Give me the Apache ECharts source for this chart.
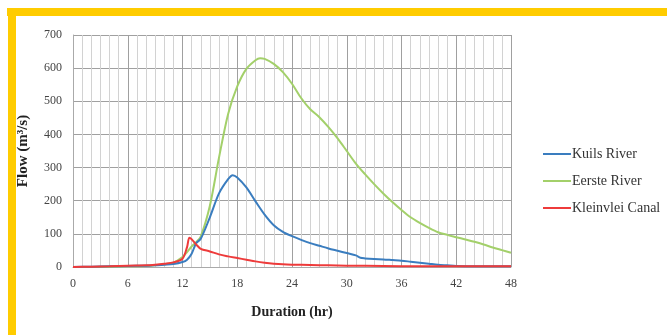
<!DOCTYPE html>
<html><head><meta charset="utf-8">
<script src="https://cdn.jsdelivr.net/npm/echarts@6/dist/echarts.min.js"></script>
<style>html,body{margin:0;padding:0;background:#fff}#c{width:667px;height:335px}</style>
</head><body><div id="c"></div>
<script>
var seriesNames = ['Kuils River', 'Eerste River', 'Kleinvlei Canal'];
var xTicks = [0, 6, 12, 18, 24, 30, 36, 42, 48];
var yTicks = [0, 100, 200, 300, 400, 500, 600, 700];

var kuilsT = [0,2,4,6,8,9,10,11,12,12.5,13,13.5,14,15,16,17,17.5,18,19,20,21,22,23,24,25,26,27,28,29,30,31,31.5,32,33,34,35,36,37,38,39,40,41,42,44,46,48];
var kuilsV = [0,1,2,3,4,5,7,9,15,22,40,72,85,150,222,265,277,270,240,198,158,126,106,93,82,72,64,56,49,42,35,28,26,24,23,21,19,16,13,10,7,5,3,2,2,2];

var eersteT = [0,2,4,6,8,9,10,11,12,12.5,13,13.5,14,15,16,17,18,19,20,20.5,21,22,23,24,25,26,27,28,29,30,31,32,33,34,35,36,37,38,39,40,41,42,43,44,45,46,47,48];
var eersteV = [0,0,1,2,3,5,8,13,30,45,62,75,92,185,330,462,545,598,624,630,628,613,588,553,510,476,452,422,388,350,312,280,250,222,196,172,150,133,118,105,97,90,83,76,68,59,51,43];

var kleinT = [0,2,4,6,8,9,10,11,12,12.5,12.75,13,13.5,14,15,16,17,18,19,20,21,22,23,24,26,28,30,34,38,42,48];
var kleinV = [0,1,2,4,5,7,10,14,25,60,88,84,68,55,47,38,32,27,22,17,13,10,8,7,6,5,4,3,2,2,2];

function pairs(t, v) { return t.map(function (x, i) { return [x, v[i]]; }); }

var serif = 'Liberation Serif';
var chart = echarts.init(document.getElementById('c'), null, {renderer: 'canvas'});
chart.setOption({
  animation: false,
  backgroundColor: '#fff',
  graphic: [
    {type: 'rect', shape: {x: 7, y: 8, width: 660, height: 8}, style: {fill: '#ffcc00'}},
    {type: 'rect', shape: {x: 8, y: 8, width: 8, height: 327}, style: {fill: '#ffcc00'}}
  ],
  grid: {left: 73, right: 156, top: 35, bottom: 68},
  legend: {
    orient: 'vertical', left: 538, top: 142, itemGap: 13,
    itemWidth: 28, itemHeight: 2, icon: 'rect',
    textStyle: {fontFamily: serif, fontSize: 14, color: '#333', padding: [0, 0, 0, -4]},
    data: seriesNames
  },
  xAxis: {
    type: 'value', min: 0, max: 48, interval: 6,
    name: 'Duration (hr)', nameLocation: 'middle', nameGap: 38,
    nameTextStyle: {fontFamily: serif, fontSize: 14, fontWeight: 'bold', color: '#222'},
    axisLine: {lineStyle: {color: '#aaa'}},
    axisTick: {show: false},
    axisLabel: {fontFamily: serif, fontSize: 12, color: '#444', margin: 11,
      formatter: function (v) { return xTicks.indexOf(v) >= 0 ? String(v) : ''; }},
    splitLine: {show: true, lineStyle: {color: '#a0a0a0', width: 1}},
    minorTick: {show: false, splitNumber: 6},
    minorSplitLine: {show: true, lineStyle: {color: '#d2d2d2', width: 1}}
  },
  yAxis: {
    type: 'value', min: 0, max: 700, interval: 100,
    name: 'Flow (m\u00b3/s)', nameLocation: 'middle', nameGap: 42, nameRotate: 90,
    nameTextStyle: {fontFamily: serif, fontSize: 15, fontWeight: 'bold', color: '#222'},
    axisLine: {show: true, lineStyle: {color: '#aaa'}},
    axisTick: {show: false},
    axisLabel: {fontFamily: serif, fontSize: 12, color: '#444', margin: 11,
      formatter: function (v) { return yTicks.indexOf(v) >= 0 ? String(v) : ''; }},
    splitLine: {show: true, lineStyle: {color: '#a0a0a0', width: 1}}
  },
  series: [
    {name: seriesNames[0], type: 'line', data: pairs(kuilsT, kuilsV), showSymbol: false, smooth: 0.3,
      lineStyle: {color: '#3a7dbf', width: 2}, itemStyle: {color: '#3a7dbf'}, z: 3},
    {name: seriesNames[1], type: 'line', data: pairs(eersteT, eersteV), showSymbol: false, smooth: 0.3,
      lineStyle: {color: '#a3d06a', width: 2}, itemStyle: {color: '#a3d06a'}, z: 2},
    {name: seriesNames[2], type: 'line', data: pairs(kleinT, kleinV), showSymbol: false, smooth: 0.3,
      lineStyle: {color: '#ee3b3b', width: 2}, itemStyle: {color: '#ee3b3b'}, z: 4}
  ]
});
</script></body></html>
